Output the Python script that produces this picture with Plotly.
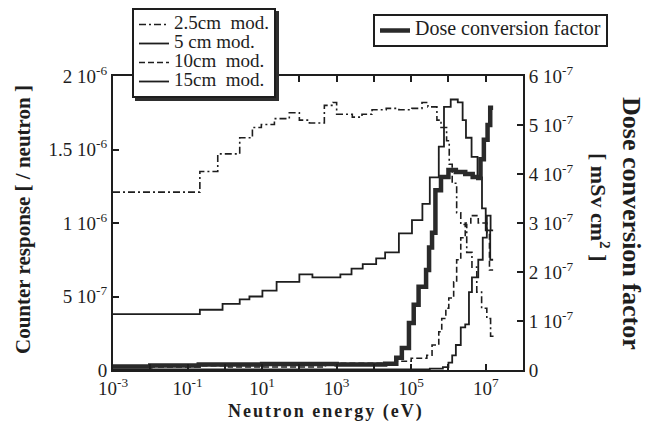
import plotly.graph_objects as go

# ---------------- data ----------------
# step curves: left bin edges in eV (last entry = upper edge of the final bin)
e_25 = [1e-3, 0.214, 0.646, 2.51, 5.5, 9.55, 21.4, 53.7, 100, 186, 468, 794, 1000,
        2630, 4790, 8910, 2.14e4, 4.68e4, 1.05e5, 1.95e5, 2.82e5, 4.9e5, 6.31e5,
        8.91e5, 1.05e6, 1.26e6, 1.66e6, 2.14e6, 3.09e6, 4.27e6, 5.75e6, 7.76e6,
        1.07e7, 1.35e7, 1.62e7]
r_25 = [1.21e-6, 1.35e-6, 1.47e-6, 1.58e-6, 1.65e-6, 1.67e-6, 1.71e-6, 1.75e-6,
        1.70e-6, 1.68e-6, 1.80e-6, 1.82e-6, 1.74e-6, 1.72e-6, 1.74e-6, 1.77e-6,
        1.78e-6, 1.77e-6, 1.78e-6, 1.82e-6, 1.79e-6, 1.70e-6, 1.65e-6, 1.56e-6,
        1.40e-6, 1.27e-6, 1.07e-6, 0.99e-6, 0.80e-6, 0.70e-6, 0.53e-6, 0.42e-6,
        0.35e-6, 0.23e-6]

e_5 = [1e-3, 0.214, 0.87, 2.51, 4.57, 10.2, 24.5, 100, 224, 468, 1260, 2510, 5010,
       1.15e4, 2.0e4, 4.68e4, 1.05e5, 2.0e5, 3.16e5, 5.5e5, 7.59e5, 1.15e6, 1.78e6,
       2.4e6, 2.95e6, 4.17e6, 6.03e6, 7.94e6, 1.0e7, 1.32e7, 1.58e7]
r_5 = [0.38e-6, 0.41e-6, 0.45e-6, 0.48e-6, 0.50e-6, 0.54e-6, 0.60e-6, 0.65e-6,
       0.63e-6, 0.63e-6, 0.65e-6, 0.69e-6, 0.72e-6, 0.76e-6, 0.80e-6, 0.93e-6,
       1.02e-6, 1.13e-6, 1.31e-6, 1.52e-6, 1.79e-6, 1.84e-6, 1.82e-6, 1.70e-6,
       1.58e-6, 1.45e-6, 1.31e-6, 1.10e-6, 0.95e-6, 0.75e-6]

e_10 = [1e-3, 0.214, 1.26, 501, 3.98e4, 1.0e5, 2.63e5, 3.63e5, 5.5e5, 6.61e5, 8.51e5,
        1.02e6, 1.38e6, 1.66e6, 2.14e6, 2.82e6, 3.98e6, 6.31e6, 1.07e7, 1.26e7, 1.58e7]
r_10 = [0.02e-6, 0.03e-6, 0.02e-6, 0.045e-6, 0.06e-6, 0.08e-6, 0.10e-6, 0.17e-6,
        0.26e-6, 0.35e-6, 0.42e-6, 0.49e-6, 0.60e-6, 0.75e-6, 0.90e-6, 1.00e-6,
        1.05e-6, 1.00e-6, 0.93e-6, 0.68e-6]

e_15 = [1e-3, 3.16e5, 7.08e5, 1.0e6, 1.26e6, 1.58e6, 2.14e6, 2.82e6, 3.55e6, 4.27e6,
        6.31e6, 8.32e6, 1.07e7, 1.35e7, 1.58e7]
r_15 = [0.004e-6, 0.01e-6, 0.02e-6, 0.05e-6, 0.10e-6, 0.17e-6, 0.29e-6, 0.31e-6,
        0.53e-6, 0.63e-6, 0.75e-6, 0.90e-6, 1.05e-6, 0.95e-6]

e_dose = [1e-3, 1e-2, 0.2, 10, 1000, 2.0e4, 3.98e4, 5.62e4, 8.71e4, 1.17e5, 1.58e5,
          2.51e5, 3.02e5, 3.63e5, 4.47e5, 6.31e5, 1.0e6, 1.58e6, 2.82e6, 4.47e6,
          6.31e6, 7.24e6, 8.91e6, 1.12e7, 1.32e7, 1.58e7]
h_dose = [0.07e-7, 0.09e-7, 0.11e-7, 0.12e-7, 0.11e-7, 0.13e-7, 0.25e-7, 0.45e-7,
          0.96e-7, 1.33e-7, 1.70e-7, 2.04e-7, 2.50e-7, 2.80e-7, 3.67e-7, 3.94e-7,
          4.08e-7, 4.04e-7, 4.00e-7, 3.94e-7, 3.92e-7, 4.30e-7, 4.70e-7, 5.00e-7,
          5.35e-7]

names = ["2.5cm  mod.", "5 cm mod.", "10cm  mod.", "15cm  mod."]
dose_name = "Dose conversion factor"

x_tickvals = [1e-3, 1e-2, 1e-1, 1, 10, 100, 1e3, 1e4, 1e5, 1e6, 1e7]
x_ticktext = ["10<sup>-3</sup>", "", "10<sup>-1</sup>", "", "10<sup>1</sup>", "",
              "10<sup>3</sup>", "", "10<sup>5</sup>", "", "10<sup>7</sup>"]
yl_tickvals = [0, 5e-7, 1e-6, 1.5e-6, 2e-6]
yl_ticktext = ["0", "5 10<sup>-7</sup>", "1 10<sup>-6</sup>", "1.5 10<sup>-6</sup>",
               "2 10<sup>-6</sup>"]
yr_tickvals = [0, 1e-7, 2e-7, 3e-7, 4e-7, 5e-7, 6e-7]
yr_ticktext = ["0", "1 10<sup>-7</sup>", "2 10<sup>-7</sup>", "3 10<sup>-7</sup>",
               "4 10<sup>-7</sup>", "5 10<sup>-7</sup>", "6 10<sup>-7</sup>"]

# ---------------- figure ----------------
INK = "#1e1e1e"
FONT = "Liberation Serif"
L, R, T, B, W, H = 113, 127, 76, 53, 650, 423
PW, PH = W - L - R, H - T - B


def step(vals):
    return list(vals) + [vals[-1]]


def lg(txt, size):
    return '<span style="font-size:%dpx">%s</span>' % (size, txt)


def px(xp):
    return (xp - L) / PW


def py(yp):
    return (H - B - yp) / PH


fig = go.Figure()

fig.add_trace(go.Scatter(x=e_dose, y=step(h_dose), yaxis="y2", mode="lines",
                         line=dict(shape="hv", color="#2a2a2a", width=4.5),
                         name=lg(dose_name, 20), legend="legend2"))

styles = [("7px,3px,2px,3px", 1.6), ("solid", 1.8), ("6px,3px", 1.6), ("solid", 1.8)]
for (ex, rv, nm, (dash, w)) in zip([e_25, e_5, e_10, e_15], [r_25, r_5, r_10, r_15],
                                    names, styles):
    fig.add_trace(go.Scatter(x=ex, y=step(rv), mode="lines",
                             line=dict(shape="hv", color=INK, width=w, dash=dash),
                             name=lg(nm, 19), legend="legend"))

axis_common = dict(showgrid=False, zeroline=False, showline=True, linecolor=INK,
                   linewidth=2, ticks="inside", ticklen=6, tickwidth=2,
                   tickcolor=INK, automargin=False,
                   tickfont=dict(family=FONT, size=19, color=INK))

fig.update_layout(
    width=W, height=H,
    margin=dict(l=L, r=R, t=T, b=B, autoexpand=False),
    paper_bgcolor="white", plot_bgcolor="white",
    font=dict(family=FONT, color=INK),
    xaxis=dict(type="log", range=[-3, 8], tickvals=x_tickvals, ticktext=x_ticktext,
               mirror="ticks", **axis_common),
    yaxis=dict(range=[0, 2e-6], tickvals=yl_tickvals, ticktext=yl_ticktext,
               **axis_common),
    yaxis2=dict(range=[0, 6e-7], tickvals=yr_tickvals, ticktext=yr_ticktext,
                overlaying="y", side="right", **axis_common),
    legend=dict(x=px(132), y=py(8), xanchor="left", yanchor="top",
                bgcolor="white", bordercolor=INK, borderwidth=2,
                font=dict(family=FONT, size=12, color=INK), tracegroupgap=0),
    legend2=dict(x=px(373), y=py(14), xanchor="left", yanchor="top",
                 bgcolor="white", bordercolor=INK, borderwidth=2,
                 font=dict(family=FONT, size=12, color=INK)),
    annotations=[
        dict(text="<b>Counter response [ / neutron ]</b>", textangle=-90,
             xref="paper", yref="paper", x=px(23), y=py(220), showarrow=False,
             xanchor="center", yanchor="middle",
             font=dict(family=FONT, size=21, color=INK)),
        dict(text="<b>Dose conversion factor</b>", textangle=90,
             xref="paper", yref="paper", x=px(632), y=py(223), showarrow=False,
             xanchor="center", yanchor="middle",
             font=dict(family=FONT, size=26, color=INK)),
        dict(text="<b>[ mSv cm<sup>2</sup> ]</b>", textangle=90,
             xref="paper", yref="paper", x=px(600), y=py(207), showarrow=False,
             xanchor="center", yanchor="middle",
             font=dict(family=FONT, size=22, color=INK)),
        dict(text='<b><span style="letter-spacing:2px">Neutron energy (eV)</span></b>',
             xref="paper", yref="paper", x=px(326), y=py(411), showarrow=False,
             xanchor="center", yanchor="middle",
             font=dict(family=FONT, size=18, color=INK)),
    ],
)

# drop shadow behind each legend box (copy of the legend background, offset)
shadow_js = """
document.body.style.margin = '0';
document.body.style.overflow = 'hidden';
document.querySelectorAll('g.legend').forEach(function (g) {
  var bg = g.querySelector('rect.bg');
  if (!bg) { return; }
  var s = bg.cloneNode(false);
  s.setAttribute('class', 'legend-shadow');
  s.setAttribute('transform', 'translate(3,3)');
  s.style.fill = '#2e2e2e';
  s.style.stroke = '#2e2e2e';
  bg.parentNode.insertBefore(s, bg);
});
"""

fig.write_html("out.html", config={"displayModeBar": False}, post_script=shadow_js)
